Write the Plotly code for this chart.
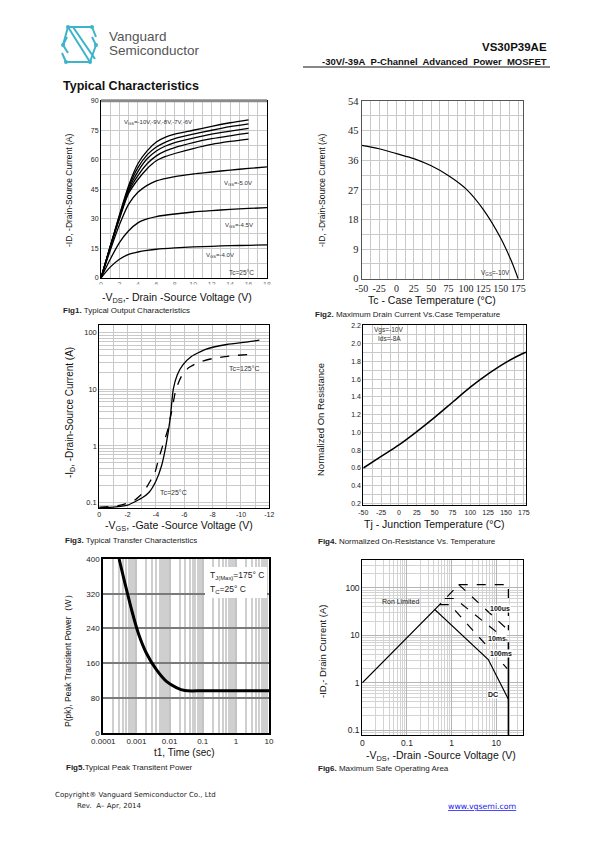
import math
import plotly.graph_objects as go

# page is drawn with the browser's default 8px body margin: compensate
OFF = 8
W, H = 595 - OFF, 842 - OFF
def X(p): return (p - OFF) / W
def Y(p): return 1 - (p - OFF) / H

# ---------------- data ----------------
# Fig1: output characteristics
fig1_vds_a = [0, 1, 2, 3, 4, 5, 6, 7, 8, 10, 12, 14, 16]
fig1_id_vgs10 = [0, 16, 32, 47, 58, 64.5, 69, 71.5, 73, 75, 77, 78.8, 80.3]
fig1_id_vgs9 = [0, 16, 31.5, 46, 56, 62.5, 66.5, 69, 70.8, 73, 75, 76.8, 78.2]
fig1_id_vgs8 = [0, 16, 31, 45, 54, 60.5, 64.5, 67, 68.7, 71, 73, 74.5, 75.9]
fig1_id_vgs7 = [0, 15.5, 30.5, 44, 52, 58, 62, 64.5, 66.2, 68.7, 70.7, 72.2, 73.5]
fig1_id_vgs6 = [0, 15.5, 30, 43, 50, 55.5, 59.5, 61.7, 63.2, 65.7, 67.8, 69.3, 70.5]
fig1_vds_b = [0, 1, 2, 3, 4, 5, 6, 8, 10, 12, 14, 16, 18]
fig1_id_vgs5 = [0, 14, 27, 37.5, 43.5, 47, 49.3, 51.5, 52.8, 53.8, 54.8, 55.6, 56.4]
fig1_id_vgs45 = [0, 9.5, 18, 24, 28, 30, 31.2, 32.5, 33.5, 34.2, 34.8, 35.3, 35.7]
fig1_id_vgs4 = [0, 5.5, 9.5, 12, 13.2, 14, 14.6, 15.3, 15.8, 16.1, 16.4, 16.6, 16.8]
fig1_xticks = [0, 2, 4, 6, 8, 10, 12, 14, 16, 18]
fig1_yticks = [0, 15, 30, 45, 60, 75, 90]

# Fig2: max drain current vs case temperature
fig2_tc = [-50, -25, 0, 25, 50, 75, 100, 125, 150, 165, 175]
fig2_id = [40.5, 39.5, 38, 36.5, 34.3, 31.3, 27.3, 21, 12.3, 5.5, 0]
fig2_xticks = [-50, -25, 0, 25, 50, 75, 100, 125, 150, 175]
fig2_yticks = [0, 9, 18, 27, 36, 45, 54]

# Fig3: transfer characteristics
fig3_vgs_25 = [0, -1, -2, -3, -3.5, -4.0, -4.4, -4.7, -5.0, -5.22, -5.5, -5.9, -6.5, -7.5, -9, -10.5, -11.3]
fig3_id_25 = [0.082, 0.083, 0.09, 0.12, 0.15, 0.24, 0.45, 1.0, 3.0, 10, 18, 27, 38, 51, 62, 69, 74]
fig3_vgs_125 = [0, -1.5, -2.5, -3.1, -3.6, -3.9, -4.2, -4.47, -4.8, -5.1, -5.41, -5.8, -6.3, -7.0, -8, -9.5, -11]
fig3_id_125 = [0.082, 0.09, 0.11, 0.15, 0.24, 0.32, 0.6, 1.0, 1.8, 4.0, 10, 17, 24, 30, 35, 39.5, 42]
fig3_xticks = [0, -2, -4, -6, -8, -10, -12]
fig3_yticks = [0.1, 1, 10, 100]

# Fig4: normalized on-resistance vs temperature
fig4_tj = [-50, -25, 0, 25, 50, 75, 100, 125, 150, 175, 178]
fig4_rn = [0.6, 0.73, 0.86, 1.01, 1.17, 1.34, 1.51, 1.66, 1.79, 1.895, 1.905]
fig4_xticks = [-50, -25, 0, 25, 50, 75, 100, 125, 150, 175]
fig4_yticks = [0.2, 0.4, 0.6, 0.8, 1.0, 1.2, 1.4, 1.6, 1.8, 2.0, 2.2]

# Fig5: peak transient power
fig5_t = [3.0e-4, 4.5e-4, 7.2e-4, 1.14e-3, 2.0e-3, 4.1e-3, 8.2e-3, 0.016, 0.029, 0.1, 1, 10]
fig5_p = [400, 344, 282, 229, 183, 144, 117.5, 104, 97, 96.5, 96.5, 96.5]
fig5_xticks = [1e-4, 1e-3, 1e-2, 1e-1, 1, 10]
fig5_xlabels = ["0.0001", "0.001", "0.01", "0.1", "1", "10"]
fig5_yticks = [0, 80, 160, 240, 320, 400]

# Fig6: safe operating area
fig6_dc_v = [0.01, 0.42, 6.6, 18.6]
fig6_dc_i = [1, 35, 3.1, 0.45]
fig6_lim_v = [18.6, 18.6]
fig6_lim_i = [0.05, 7.2]
fig6_ron_v = [0.42, 1.44]
fig6_ron_i = [35, 118]
fig6_box_v = [1.44, 18.6, 18.6]
fig6_box_i = [118, 118, 12.8]
fig6_100us_v = [1.44, 18.6]
fig6_100us_i = [118, 12.8]
fig6_10ms_v = [0.70, 1.17, 17.5]
fig6_10ms_i = [60, 60, 7.8]
fig6_100ms_v = [0.54, 0.91, 17.5]
fig6_100ms_i = [44.6, 44.6, 2.0]
fig6_xticks = [0.01, 0.1, 1, 10]
fig6_xlabels = ["0", "0.1", "1", "10"]
fig6_yticks = [0.1, 1, 10, 100]

# ---------------- figure ----------------
SANS = "Liberation Sans, Arial, sans-serif"
SERIF = "Liberation Serif, Times New Roman, serif"
GRID = "#c9c9c9"
fig = go.Figure()

def line(x, y, n, width=1.2, dash="solid", shape="linear", color="black", smoothing=0.8):
    fig.add_trace(go.Scatter(x=x, y=y, xaxis="x" + ("" if n == 1 else str(n)),
                             yaxis="y" + ("" if n == 1 else str(n)), mode="lines",
                             line=dict(color=color, width=width, dash=dash, shape=shape, smoothing=smoothing),
                             hoverinfo="skip", showlegend=False))

# Fig1
for ys in [fig1_id_vgs10, fig1_id_vgs9, fig1_id_vgs8, fig1_id_vgs7, fig1_id_vgs6]:
    line(fig1_vds_a, ys, 1, 1.3, shape="spline")
for ys in [fig1_id_vgs5, fig1_id_vgs45, fig1_id_vgs4]:
    line(fig1_vds_b, ys, 1, 1.3, shape="spline")
# Fig2
line(fig2_tc, fig2_id, 2, 1.2, shape="spline")
# Fig3
line(fig3_vgs_25, fig3_id_25, 3, 1.3, shape="spline", smoothing=0.5)
line(fig3_vgs_125, fig3_id_125, 3, 1.3, dash="dash", shape="spline", smoothing=0.5)
# Fig4
line(fig4_tj, fig4_rn, 4, 1.5, shape="spline")
# Fig5
line(fig5_t, fig5_p, 5, 3, shape="spline")
# Fig6
line(fig6_dc_v, fig6_dc_i, 6, 1.2)
line(fig6_lim_v, fig6_lim_i, 6, 1.5)
for vx, iy in [(fig6_ron_v, fig6_ron_i), (fig6_box_v, fig6_box_i), (fig6_100us_v, fig6_100us_i),
               (fig6_10ms_v, fig6_10ms_i), (fig6_100ms_v, fig6_100ms_i)]:
    line(vx, iy, 6, 1.2, dash="dash")

def lin_minor(a, b, step):
    n = int(round((b - a) / step))
    return [a + i * step for i in range(n + 1)]

def log_minor(d0, d1):
    return [k * 10.0 ** d for d in range(d0, d1 + 1) for k in range(2, 10)]

def axis(dom, anchor, rng, tv, tt, minor_vals, tfont, typ="linear", grid=GRID, gw=1,
         mgrid=GRID, mgw=1, lc="black", lw=1):
    return dict(domain=dom, anchor=anchor, range=rng, type=typ, tickmode="array",
                tickvals=tv, ticktext=tt, showgrid=True, gridcolor=grid, gridwidth=gw,
                minor=dict(tickmode="array", tickvals=minor_vals, showgrid=True,
                           gridcolor=mgrid, gridwidth=mgw, ticks=""),
                showline=True, mirror=True, linecolor=lc, linewidth=lw, ticks="",
                tickangle=0, automargin=False,
                tickfont=tfont, zeroline=False, fixedrange=True)

def xd(a, b): return [X(a), X(b)]
def yd(top, bot): return [Y(bot), Y(top)]

f7 = dict(family=SANS, size=7, color="#222")
lay = {}
# Fig1
lay["xaxis"] = axis(xd(101, 267), "y", [0, 18], fig1_xticks, [str(v) for v in fig1_xticks],
                    lin_minor(0, 18, 1), dict(family=SANS, size=7, color="#777"))
lay["yaxis"] = axis(yd(100.7, 278), "x", [0, 90], fig1_yticks, [str(v) for v in fig1_yticks],
                    lin_minor(0, 90, 7.5), f7)
# Fig2
fs = dict(family=SERIF, size=10, color="#222")
lay["xaxis2"] = axis(xd(361.7, 523), "y2", [-50, 182], fig2_xticks, [str(v) for v in fig2_xticks],
                     lin_minor(-50, 175, 12.5), fs, lc="#555")
lay["yaxis2"] = axis(yd(101, 278.7), "x2", [0, 54], fig2_yticks, [str(v) for v in fig2_yticks],
                     lin_minor(0, 54, 4.5), dict(family=SERIF, size=10.5, color="#222"), lc="#555")
# Fig3
lay["xaxis3"] = axis(xd(99.3, 269.3), "y3", [0, -12], fig3_xticks, [str(v) for v in fig3_xticks],
                     lin_minor(-12, 0, 1), dict(family=SANS, size=7, color="#222"))
lay["yaxis3"] = axis(yd(325, 508), "x3", [math.log10(0.08), math.log10(137)], fig3_yticks,
                     ["0.1", "1", "10", "100"], log_minor(-2, 2),
                     dict(family=SANS, size=7.5, color="#222"), typ="log")
# Fig4
lay["xaxis4"] = axis(xd(363.3, 526), "y4", [-50, 178], fig4_xticks, [str(v) for v in fig4_xticks],
                     lin_minor(-50, 175, 12.5), f7)
lay["yaxis4"] = axis(yd(325, 505.3), "x4", [0.18, 2.21], fig4_yticks,
                     ["%.1f" % v for v in fig4_yticks], lin_minor(0.2, 2.2, 0.1), f7)
# Fig5
f8n = dict(family=SANS, size=8, color="#222")
lay["xaxis5"] = axis(xd(103.3, 269), "y5", [-4, 1], fig5_xticks, fig5_xlabels, log_minor(-4, 0),
                     f8n, typ="log", grid="#c4c4c4", gw=2, mgrid="#cfcfcf", mgw=2, lw=2)
lay["yaxis5"] = axis(yd(559, 732.7), "x5", [0, 400], fig5_yticks, [str(v) for v in fig5_yticks],
                     [], f8n, grid="#7a7a7a", gw=1.5, lw=2)
# Fig6
f9 = dict(family=SANS, size=8.5, color="#222")
lay["xaxis6"] = axis(xd(362.3, 522.7), "y6", [-2, 1.59], fig6_xticks, fig6_xlabels, log_minor(-2, 1),
                     f9, typ="log", grid="#b5b5b5", mgrid="#d3d3d3")
lay["yaxis6"] = axis(yd(560, 735), "x6", [-1.1, 2.59], fig6_yticks, ["0.1", "1", "10", "100"],
                     log_minor(-2, 2), f9, typ="log", grid="#b5b5b5", mgrid="#d3d3d3")

anns = []
def ann(text, x, y, size=8, xanchor="left", yanchor="middle", angle=0, family=SANS,
        color="#111", xref="paper", yref="paper", bg=None):
    if xref == "paper":
        x = X(x)
    if yref == "paper":
        y = Y(y)
    d = dict(text=text, x=x, y=y, xref=xref, yref=yref, xanchor=xanchor, yanchor=yanchor,
             showarrow=False, textangle=angle, font=dict(family=family, size=size, color=color))
    if bg:
        d.update(bgcolor=bg, borderpad=0)
    anns.append(d)

# header
ann("Vanguard", 107, 36, size=13.5, color="#555")
ann("Semiconductor", 107, 50.5, size=13.5, color="#555")
ann("<b>VS30P39AE</b>", 549, 47, size=11.5, xanchor="right", color="#111")
ann("<b>-30V/-39A\u00a0 P-Channel\u00a0 Advanced\u00a0 Power\u00a0 MOSFET</b>", 549, 61, size=9.5,
    xanchor="right", color="#111")
ann("<b>Typical Characteristics</b>", 61, 86, size=12.5, color="#111")

# footer
ann("Copyright® Vanguard Semiconductor Co., Ltd", 53, 795, size=7, family="DejaVu Sans", color="#222")
ann("Rev.\u00a0 A– Apr, 2014", 75, 806, size=7, family="DejaVu Sans", color="#222")
ann("<u>www.vgsemi.com</u>", 446, 806, size=7.8, family="DejaVu Sans", color="#1a1aee")

# captions
ann("<b>Fig1.</b> Typical Output Characteristics", 61, 311, size=8, color="#222")
ann("<b>Fig2.</b> Maximum Drain Current Vs.Case Temperature", 313, 315, size=8, color="#222")
ann("<b>Fig3.</b> Typical Transfer Characteristics", 63, 540, size=8, color="#222")
ann("<b>Fig4.</b> Normalized On-Resistance Vs. Temperature", 316, 541, size=8, color="#222")
ann("<b>Fig5.</b>Typical Peak Transitent Power", 64, 767, size=8, color="#222")
ann("<b>Fig6.</b> Maximum Safe Operating Area", 316, 768, size=8, color="#222")

# axis titles
ann("-V<sub>DS</sub>,- Drain -Source Voltage (V)", 177, 298, size=10.5, xanchor="center")
ann("-ID, -Drain-Source Current (A)", 69, 190, size=8.5, xanchor="center", angle=-90)
ann("Tc - Case Temperature (°C)", 432, 299.5, size=10.5, xanchor="center")
ann("-ID, -Drain-Source Current (A)", 322, 190, size=8.5, xanchor="center", angle=-90)
ann("-V<sub>GS</sub>, -Gate -Source Voltage (V)", 179, 526, size=10.5, xanchor="center")
ann("-I<sub>D</sub>, -Drain-Source Current (A)", 70, 413, size=10, xanchor="center", angle=-90)
ann("Tj - Junction Temperature (°C)", 434, 524, size=10.5, xanchor="center")
ann("Normalized On Resistance", 320, 420, size=9.5, xanchor="center", angle=-90)
ann("t1, Time (sec)", 184, 752, size=10, xanchor="center")
ann("P(pk), Peak Transitent Power\uff08W\uff09", 68, 659, size=8.5, xanchor="center", angle=-90)
ann("-V<sub>DS</sub>, -Drain -Source Voltage (V)", 441, 755.5, size=10.5, xanchor="center")
ann("-ID,- Drain Current (A)", 322, 652, size=9.5, xanchor="center", angle=-90)

# in-plot labels
ann("V<sub>GS</sub>=-10V,-9V,-8V,-7V,-6V", 2.3, 79, size=6, xref="x", yref="y", color="#333")
ann("V<sub>GS</sub>=-5.0V", 13.1, 48, size=6, xref="x", yref="y", color="#333")
ann("V<sub>GS</sub>=-4.5V", 13.2, 26.4, size=6, xref="x", yref="y", color="#333")
ann("V<sub>GS</sub>=-4.0V", 11.2, 11.6, size=6, xref="x", yref="y", color="#333")
ann("Tc=25°C", 13.7, 2.6, size=6.5, xref="x", yref="y", color="#333")
ann("V<sub>GS</sub>=-10V", 142, 1.8, size=6.5, xanchor="center", xref="x2", yref="y2", color="#333")
ann("Tc=125°C", -9.0, math.log10(23.4), size=7, xref="x3", yref="y3", color="#333")
ann("Tc=25°C", -4.12, math.log10(0.152), size=7, xref="x3", yref="y3", color="#333")
ann("Vgs=-10V", 372, 330, size=6.5, color="#333")
ann("Ids=-8A", 376, 338.5, size=6.5, color="#333")
ann("T<sub>J(Max)</sub>=175° C", 208, 575, size=8.5, color="#222")
ann("T<sub>C</sub>=25° C", 208, 589, size=8.5, color="#222")
ann("Ron Limited", math.log10(0.0248), math.log10(51), size=7, xref="x6", yref="y6", color="#222")
ann("<b>100us</b>", math.log10(11.8), math.log10(37), size=7, xanchor="center", xref="x6", yref="y6", bg="white")
ann("<b>10ms</b>", math.log10(10.2), math.log10(8.7), size=7, xanchor="center", xref="x6", yref="y6", bg="white")
ann("<b>100ms</b>", math.log10(12.9), math.log10(4.1), size=7, xanchor="center", xref="x6", yref="y6", bg="white")
ann("<b>DC</b>", math.log10(8.3), math.log10(0.56), size=7, xanchor="center", xref="x6", yref="y6", bg="white")

shapes = []
def seg(x0, y0, x1, y1, color, width=1, layer="above"):
    shapes.append(dict(type="line", xref="paper", yref="paper", x0=X(x0), y0=Y(y0), x1=X(x1), y1=Y(y1),
                       line=dict(color=color, width=width), layer=layer))

# header rule (under the subtitle)
seg(303, 67, 550, 67, "#111", 1)
# logo
TEAL = "#3fb3c9"
logo = [(68, 27, 92, 27), (68, 27, 63, 45), (63, 45, 68, 53), (92, 27, 96, 37), (68, 27, 90, 62),
        (73, 27, 95, 59), (66, 62, 90, 62), (96, 45, 90, 62), (96, 45, 92, 37), (63, 45, 67, 37),
        (66, 62, 62, 53)]
for a in logo:
    seg(*a, TEAL, 2)
for (cx, cy) in [(68, 27), (92, 27), (63, 45), (96, 45), (66, 62), (90, 62)]:
    shapes.append(dict(type="circle", xref="paper", yref="paper", x0=X(cx - 2), x1=X(cx + 2),
                       y0=Y(cy + 2), y1=Y(cy - 2), fillcolor=TEAL, line=dict(width=0)))
# fig1 thick grey top border & clipped tick labels
seg(101, 100.7, 267, 100.7, "#8a8a8a", 3)
shapes.append(dict(type="rect", xref="paper", yref="paper", x0=X(90), x1=X(280), y0=Y(290), y1=Y(284.5),
                   fillcolor="white", line=dict(width=0), layer="above"))
# fig5 legend box
shapes.append(dict(type="rect", xref="paper", yref="paper", x0=X(205), x1=X(267), y0=Y(598), y1=Y(567),
                   fillcolor="white", line=dict(width=0), layer="above"))

fig.update_layout(width=W, height=H, margin=dict(l=0, r=0, t=0, b=0, autoexpand=False),
                  paper_bgcolor="white", plot_bgcolor="white", showlegend=False,
                  annotations=anns, shapes=shapes, **lay)
fig.write_html("out.html")
